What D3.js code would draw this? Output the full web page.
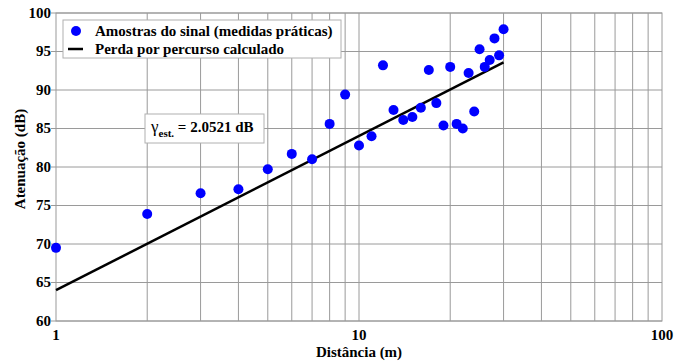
<!DOCTYPE html>
<html>
<head>
<meta charset="utf-8">
<script src="https://cdn.jsdelivr.net/npm/d3@7"></script>
<style>
  body { margin: 0; background: #fff; }
  svg text { font-family: "Times New Roman", Times, "Liberation Serif", serif; font-weight: bold; }
</style>
</head>
<body>
<div class="chart"></div>
<script>
// medidas práticas
const distances = [1, 2, 3, 4, 5, 6, 7, 8, 9, 10, 11, 12, 13, 14, 15, 16, 17, 18, 19, 20, 21, 22, 23, 24, 25, 26, 27, 28, 29, 30];
const attenuation = [69.5, 73.9, 76.6, 77.1, 79.7, 81.7, 81.0, 85.6, 89.4, 82.8, 84.0, 93.2, 87.4, 86.1, 86.5, 87.7, 92.6, 88.3, 85.4, 93.0, 85.6, 85.0, 92.2, 87.2, 95.3, 93.0, 93.9, 96.7, 94.5, 97.9];
// perda por percurso calculada
const fitDistances = [1, 30];
const fitLoss = [64.0, 93.6];
const yTicks = [60, 65, 70, 75, 80, 85, 90, 95, 100];
const xLabelTicks = [1, 10, 100];
const xGridTicks = [2, 3, 4, 5, 6, 7, 8, 9, 10, 20, 30, 40, 50, 60, 70, 80, 90];
const legendLabels = ["Amostras do sinal (medidas práticas)", "Perda por percurso calculado"];

const dims = { width: 685, height: 363, margin: { left: 56, right: 23, top: 13, bottom: 42 } };

const svg = d3.select('.chart').append('svg')
    .attr('width', dims.width)
    .attr('height', dims.height)
    .style('display', 'block');

const x = d3.scaleLog()
    .domain([1, 100])
    .range([dims.margin.left, dims.width - dims.margin.right]);

const y = d3.scaleLinear()
    .domain([60, 100])
    .range([dims.height - dims.margin.bottom, dims.margin.top]);

const gridColor = '#9a9a9a';

// grade
svg.append('g')
    .selectAll('line')
    .data(yTicks)
    .join('line')
    .attr('x1', x(1) - 5).attr('x2', x(100))
    .attr('y1', d => y(d)).attr('y2', d => y(d))
    .attr('stroke', gridColor);

svg.append('g')
    .selectAll('line')
    .data(xGridTicks)
    .join('line')
    .attr('x1', d => x(d)).attr('x2', d => x(d))
    .attr('y1', y(60)).attr('y2', y(100))
    .attr('stroke', gridColor);

svg.append('rect')
    .attr('x', x(1)).attr('y', y(100))
    .attr('width', x(100) - x(1)).attr('height', y(60) - y(100))
    .attr('fill', 'none')
    .attr('stroke', gridColor);

// eixos
svg.append('g')
    .attr('font-size', 15)
    .selectAll('text')
    .data(yTicks)
    .join('text')
    .attr('x', x(1) - 5)
    .attr('y', d => y(d))
    .attr('dy', '0.32em')
    .attr('text-anchor', 'end')
    .text(d => d);

svg.append('g')
    .attr('font-size', 15)
    .selectAll('text')
    .data(xLabelTicks)
    .join('text')
    .attr('x', d => x(d))
    .attr('y', y(60) + 19)
    .attr('text-anchor', 'middle')
    .text(d => d);

svg.append('text')
    .attr('x', (x(1) + x(100)) / 2)
    .attr('y', 357)
    .attr('text-anchor', 'middle')
    .attr('font-size', 15)
    .text('Distância (m)');

svg.append('text')
    .attr('transform', `translate(25,${(y(60) + y(100)) / 2 - 8}) rotate(-90)`)
    .attr('text-anchor', 'middle')
    .attr('font-size', 15)
    .text('Atenuação (dB)');

// linha calculada
const fit = fitDistances.map((d, i) => [d, fitLoss[i]]);
const line = d3.line()
    .x(d => x(d[0]))
    .y(d => y(d[1]));

svg.append('path')
    .attr('d', line(fit))
    .attr('fill', 'none')
    .attr('stroke', 'black')
    .attr('stroke-width', 2.5);

// amostras
svg.append('g')
    .selectAll('circle')
    .data(distances.map((d, i) => [d, attenuation[i]]))
    .join('circle')
    .attr('cx', d => x(d[0]))
    .attr('cy', d => y(d[1]))
    .attr('r', 5)
    .attr('fill', '#0000ff');

// legenda
const legend = svg.append('g').attr('font-size', 15);
legend.append('rect')
    .attr('x', 63).attr('y', 20)
    .attr('width', 278).attr('height', 38)
    .attr('fill', 'white')
    .attr('stroke', '#b0b0b0');
legend.append('circle')
    .attr('cx', 76).attr('cy', 31).attr('r', 5)
    .attr('fill', '#0000ff');
legend.append('line')
    .attr('x1', 68).attr('x2', 83)
    .attr('y1', 49).attr('y2', 49)
    .attr('stroke', 'black').attr('stroke-width', 2.5);
legend.selectAll('text.lbl')
    .data(legendLabels)
    .join('text')
    .attr('class', 'lbl')
    .attr('x', 95)
    .attr('y', (d, i) => 36 + i * 18)
    .text(d => d);

// anotação
const note = svg.append('g');
note.append('rect')
    .attr('x', 145).attr('y', 114)
    .attr('width', 119).attr('height', 29)
    .attr('fill', 'white')
    .attr('stroke', '#b0b0b0');
const noteText = note.append('text')
    .attr('x', 151).attr('y', 132)
    .attr('font-size', 15);
noteText.append('tspan').style('font-weight', 'normal').attr('font-size', 17).text('γ');
noteText.append('tspan').attr('dy', 5).attr('font-size', 11).text('est.');
noteText.append('tspan').attr('dy', -5).text(' =  2.0521 dB');
</script>
</body>
</html>
